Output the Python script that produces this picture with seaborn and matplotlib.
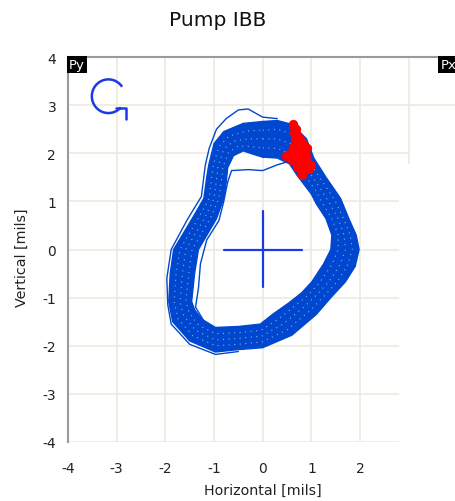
import numpy as np
import pandas as pd
import matplotlib
matplotlib.use("Agg")
import matplotlib.pyplot as plt
import seaborn as sns
from matplotlib.path import Path
from matplotlib.patches import PathPatch, Arc, Rectangle

# orbit traces (mils), clockwise from the top
outer_x = [0.00, 0.30, 0.60, 0.90, 1.05, 1.30, 1.60, 1.77, 1.92, 1.98, 1.90, 1.70, 1.40, 1.10, 0.60,
           0.00, -0.50, -0.97, -1.50, -1.85, -1.93, -1.90, -1.83, -1.45, -1.21, -1.15, -1.11, -1.00, -0.80, -0.40]
outer_y = [2.66, 2.68, 2.60, 2.30, 1.90, 1.50, 1.06, 0.64, 0.30, 0.00, -0.35, -0.67, -1.00, -1.35, -1.78,
           -2.04, -2.08, -2.13, -1.90, -1.50, -1.08, -0.50, 0.00, 0.64, 1.06, 1.50, 1.75, 2.20, 2.45, 2.62]
mid1_x = [0.00, 0.30, 0.60, 0.85, 1.00, 1.22, 1.48, 1.66, 1.80, 1.84, 1.74, 1.53, 1.25, 0.96, 0.50,
          -0.01, -0.50, -0.97, -1.44, -1.74, -1.82, -1.78, -1.70, -1.33, -1.10, -1.05, -1.02, -0.90, -0.70, -0.35]
mid1_y = [2.48, 2.50, 2.40, 2.10, 1.76, 1.42, 1.03, 0.64, 0.30, 0.00, -0.34, -0.67, -0.98, -1.28, -1.67,
          -1.92, -1.97, -2.00, -1.79, -1.44, -1.08, -0.50, 0.00, 0.64, 1.06, 1.48, 1.74, 2.14, 2.35, 2.46]
mid2_x = [0.00, 0.30, 0.58, 0.80, 0.95, 1.15, 1.35, 1.55, 1.67, 1.70, 1.58, 1.36, 1.10, 0.82, 0.40,
          -0.02, -0.50, -0.97, -1.38, -1.62, -1.70, -1.65, -1.58, -1.20, -1.00, -0.95, -0.92, -0.80, -0.60, -0.30]
mid2_y = [2.30, 2.30, 2.20, 1.92, 1.62, 1.32, 1.00, 0.64, 0.30, 0.00, -0.33, -0.67, -0.95, -1.22, -1.56,
          -1.80, -1.85, -1.88, -1.68, -1.38, -1.08, -0.50, 0.00, 0.64, 1.06, 1.45, 1.72, 2.08, 2.25, 2.30]
mid3_x = [0.00, 0.30, 0.56, 0.75, 0.90, 1.08, 1.22, 1.42, 1.55, 1.55, 1.42, 1.18, 0.95, 0.68, 0.30,
          -0.04, -0.50, -0.97, -1.32, -1.51, -1.58, -1.52, -1.45, -1.08, -0.90, -0.85, -0.82, -0.70, -0.50, -0.25]
mid3_y = [2.11, 2.10, 1.99, 1.74, 1.49, 1.24, 0.98, 0.64, 0.30, 0.00, -0.32, -0.67, -0.93, -1.16, -1.46,
          -1.68, -1.73, -1.75, -1.57, -1.32, -1.08, -0.50, 0.00, 0.64, 1.06, 1.42, 1.71, 2.02, 2.15, 2.14]
inner_x = [0.00, 0.30, 0.55, 0.70, 0.85, 1.00, 1.10, 1.30, 1.42, 1.40, 1.25, 1.01, 0.80, 0.55, 0.20,
           -0.05, -0.50, -0.97, -1.25, -1.40, -1.46, -1.40, -1.32, -0.95, -0.80, -0.75, -0.72, -0.60, -0.40, -0.20]
inner_y = [1.92, 1.90, 1.78, 1.55, 1.35, 1.15, 0.95, 0.64, 0.30, 0.00, -0.30, -0.67, -0.90, -1.10, -1.35,
           -1.55, -1.60, -1.62, -1.45, -1.25, -1.08, -0.50, 0.00, 0.64, 1.06, 1.40, 1.70, 1.95, 2.05, 1.98]
# stray revolutions just outside / inside the main band
stray_out_x = [0.30, 0.00, -0.30, -0.50, -0.75, -0.95, -1.10, -1.18, -1.26, -1.55, -1.88, -1.97, -1.95,
               -1.88, -1.50, -0.97, -0.50]
stray_out_y = [2.72, 2.75, 2.92, 2.90, 2.72, 2.50, 2.10, 1.75, 1.10, 0.62, 0.00, -0.60, -1.15,
               -1.55, -1.97, -2.18, -2.12]
stray_in_x = [0.53, 0.30, 0.00, -0.30, -0.64, -0.72, -0.80, -0.90, -1.15, -1.28, -1.32, -1.38, -1.20]
stray_in_y = [1.83, 1.76, 1.64, 1.66, 1.64, 1.40, 1.00, 0.60, 0.20, -0.30, -0.80, -1.20, -1.50]

# keyphasor dots
key_x = [0.62, 0.68, 0.65, 0.72, 0.78, 0.70, 0.85, 0.62, 0.90, 0.75, 0.55, 0.48, 0.68, 0.82,
         0.60, 0.90, 0.72, 1.00, 0.85, 0.95, 0.78, 0.80, 0.70, 0.58, 0.66, 0.74, 0.82, 0.88,
         0.64, 0.76, 0.92, 0.68]
key_y = [2.60, 2.50, 2.42, 2.35, 2.28, 2.22, 2.18, 2.12, 2.10, 2.05, 1.98, 1.95, 1.92, 1.90,
         1.85, 1.82, 1.78, 1.75, 1.70, 1.68, 1.62, 1.55, 1.72, 2.00, 2.30, 2.15, 2.00, 1.95,
         2.55, 1.85, 1.75, 2.05]

ticks_x = [-4, -3, -2, -1, 0, 1, 2]
ticks_y = [-4, -3, -2, -1, 0, 1, 2, 3, 4]

blue = "#0047CF"
bright = "#1a3ae8"

sns.set_style("white")
plt.rcParams["font.family"] = ["DejaVu Sans"]
plt.rcParams["axes.unicode_minus"] = False

fig = plt.figure(figsize=(4.55, 5.02), dpi=100)
ax = fig.add_axes([68 / 455, 59 / 502, 387 / 455, 385 / 502])
ax.set_xlim(-4, 3.95)
ax.set_ylim(-4, 4)

# grid
for v in range(-4, 4):
    ax.axvline(v, color="#EEEBDD", lw=1.2, zorder=0.3)
for v in range(-4, 5):
    ax.axhline(v, color="#EEEBDD", lw=1.2, zorder=0.3)
# blank strip at the right (covered in the original screenshot)
ax.add_patch(Rectangle((3.02, -4.5), 1.2, 7.45, color="white", zorder=0.4, lw=0))
ax.add_patch(Rectangle((2.8, -4.5), 0.3, 6.28, color="white", zorder=0.4, lw=0))

# dense orbit band
ring_o = list(zip(outer_x, outer_y)) + [(outer_x[0], outer_y[0])]
ring_i = list(zip(inner_x, inner_y)) + [(inner_x[0], inner_y[0])]
band = Path.make_compound_path(Path(ring_o, closed=True), Path(ring_i[::-1], closed=True))
ax.add_patch(PathPatch(band, facecolor=blue, edgecolor="none", zorder=1))

loops = []
for name, xs, ys in [("outer", outer_x, outer_y), ("mid1", mid1_x, mid1_y), ("mid2", mid2_x, mid2_y),
                     ("mid3", mid3_x, mid3_y), ("inner", inner_x, inner_y)]:
    loops.append(pd.DataFrame({"x": xs + [xs[0]], "y": ys + [ys[0]], "loop": name}))
loops.append(pd.DataFrame({"x": stray_out_x, "y": stray_out_y, "loop": "s1"}))
loops.append(pd.DataFrame({"x": stray_in_x, "y": stray_in_y, "loop": "s2"}))
df = pd.concat(loops, ignore_index=True)

sns.lineplot(data=df[df.loop.isin(["outer", "inner", "s1", "s2"])], x="x", y="y", units="loop",
             estimator=None, sort=False, color=blue, lw=1.0, ax=ax, zorder=2)
# gaps between the individual revolutions show as light specks
sns.lineplot(data=df[df.loop.isin(["mid1", "mid2", "mid3"])], x="x", y="y", units="loop",
             estimator=None, sort=False, color="white", lw=0.8, alpha=0.55, ls=(0, (1, 4)),
             ax=ax, zorder=2)

sns.scatterplot(x=key_x, y=key_y, color="red", s=45, linewidth=0, marker="o", ax=ax, zorder=3)

# centre cross
ax.plot([-0.8, 0.8], [0, 0], color=bright, lw=1.6, zorder=4)
ax.plot([0, 0], [-0.78, 0.8], color=bright, lw=1.6, zorder=4)

# rotation direction glyph
ax.add_patch(Arc((-3.17, 3.185), 0.68, 0.70, theta1=35, theta2=318, color=bright, lw=1.8, zorder=4))
ax.plot([-3.02, -2.80, -2.80], [2.95, 2.95, 2.72], color=bright, lw=1.8, zorder=4)

ax.set_xticks(ticks_x)
ax.set_yticks(ticks_y)
ax.tick_params(axis="both", direction="out", length=5, width=1, colors="#333333",
               labelsize=10, labelcolor="#222222")
ax.tick_params(axis="x", pad=3)
ax.set_xlabel("")
ax.set_ylabel("")
ax.grid(False)
for s in ["right", "bottom"]:
    ax.spines[s].set_visible(False)
ax.spines["bottom"].set_position(("outward", 6))
for s in ["left", "top"]:
    ax.spines[s].set_color("#9a9a9a")
    ax.spines[s].set_linewidth(1.5)

box = dict(facecolor="black", edgecolor="none", pad=1.5)
ax.text(0.003, 0.997, "Py", transform=ax.transAxes, ha="left", va="top", color="white",
        fontsize=9.5, bbox=box, zorder=6)
ax.text(0.962, 0.997, "Px", transform=ax.transAxes, ha="left", va="top", color="white",
        fontsize=9.5, bbox=box, zorder=6, clip_on=False)

fig.text(218 / 455, 1 - 20 / 502, "Pump IBB", ha="center", va="center", fontsize=14.5, color="#111111")
fig.text(263 / 455, 1 - 491 / 502, "Horizontal [mils]", ha="center", va="center", fontsize=10.3, color="#222222")
fig.text(22 / 455, 1 - 258 / 502, "Vertical [mils]", ha="center", va="center", rotation=90,
         fontsize=10.3, color="#222222")

fig.savefig("out.png", dpi=100)
